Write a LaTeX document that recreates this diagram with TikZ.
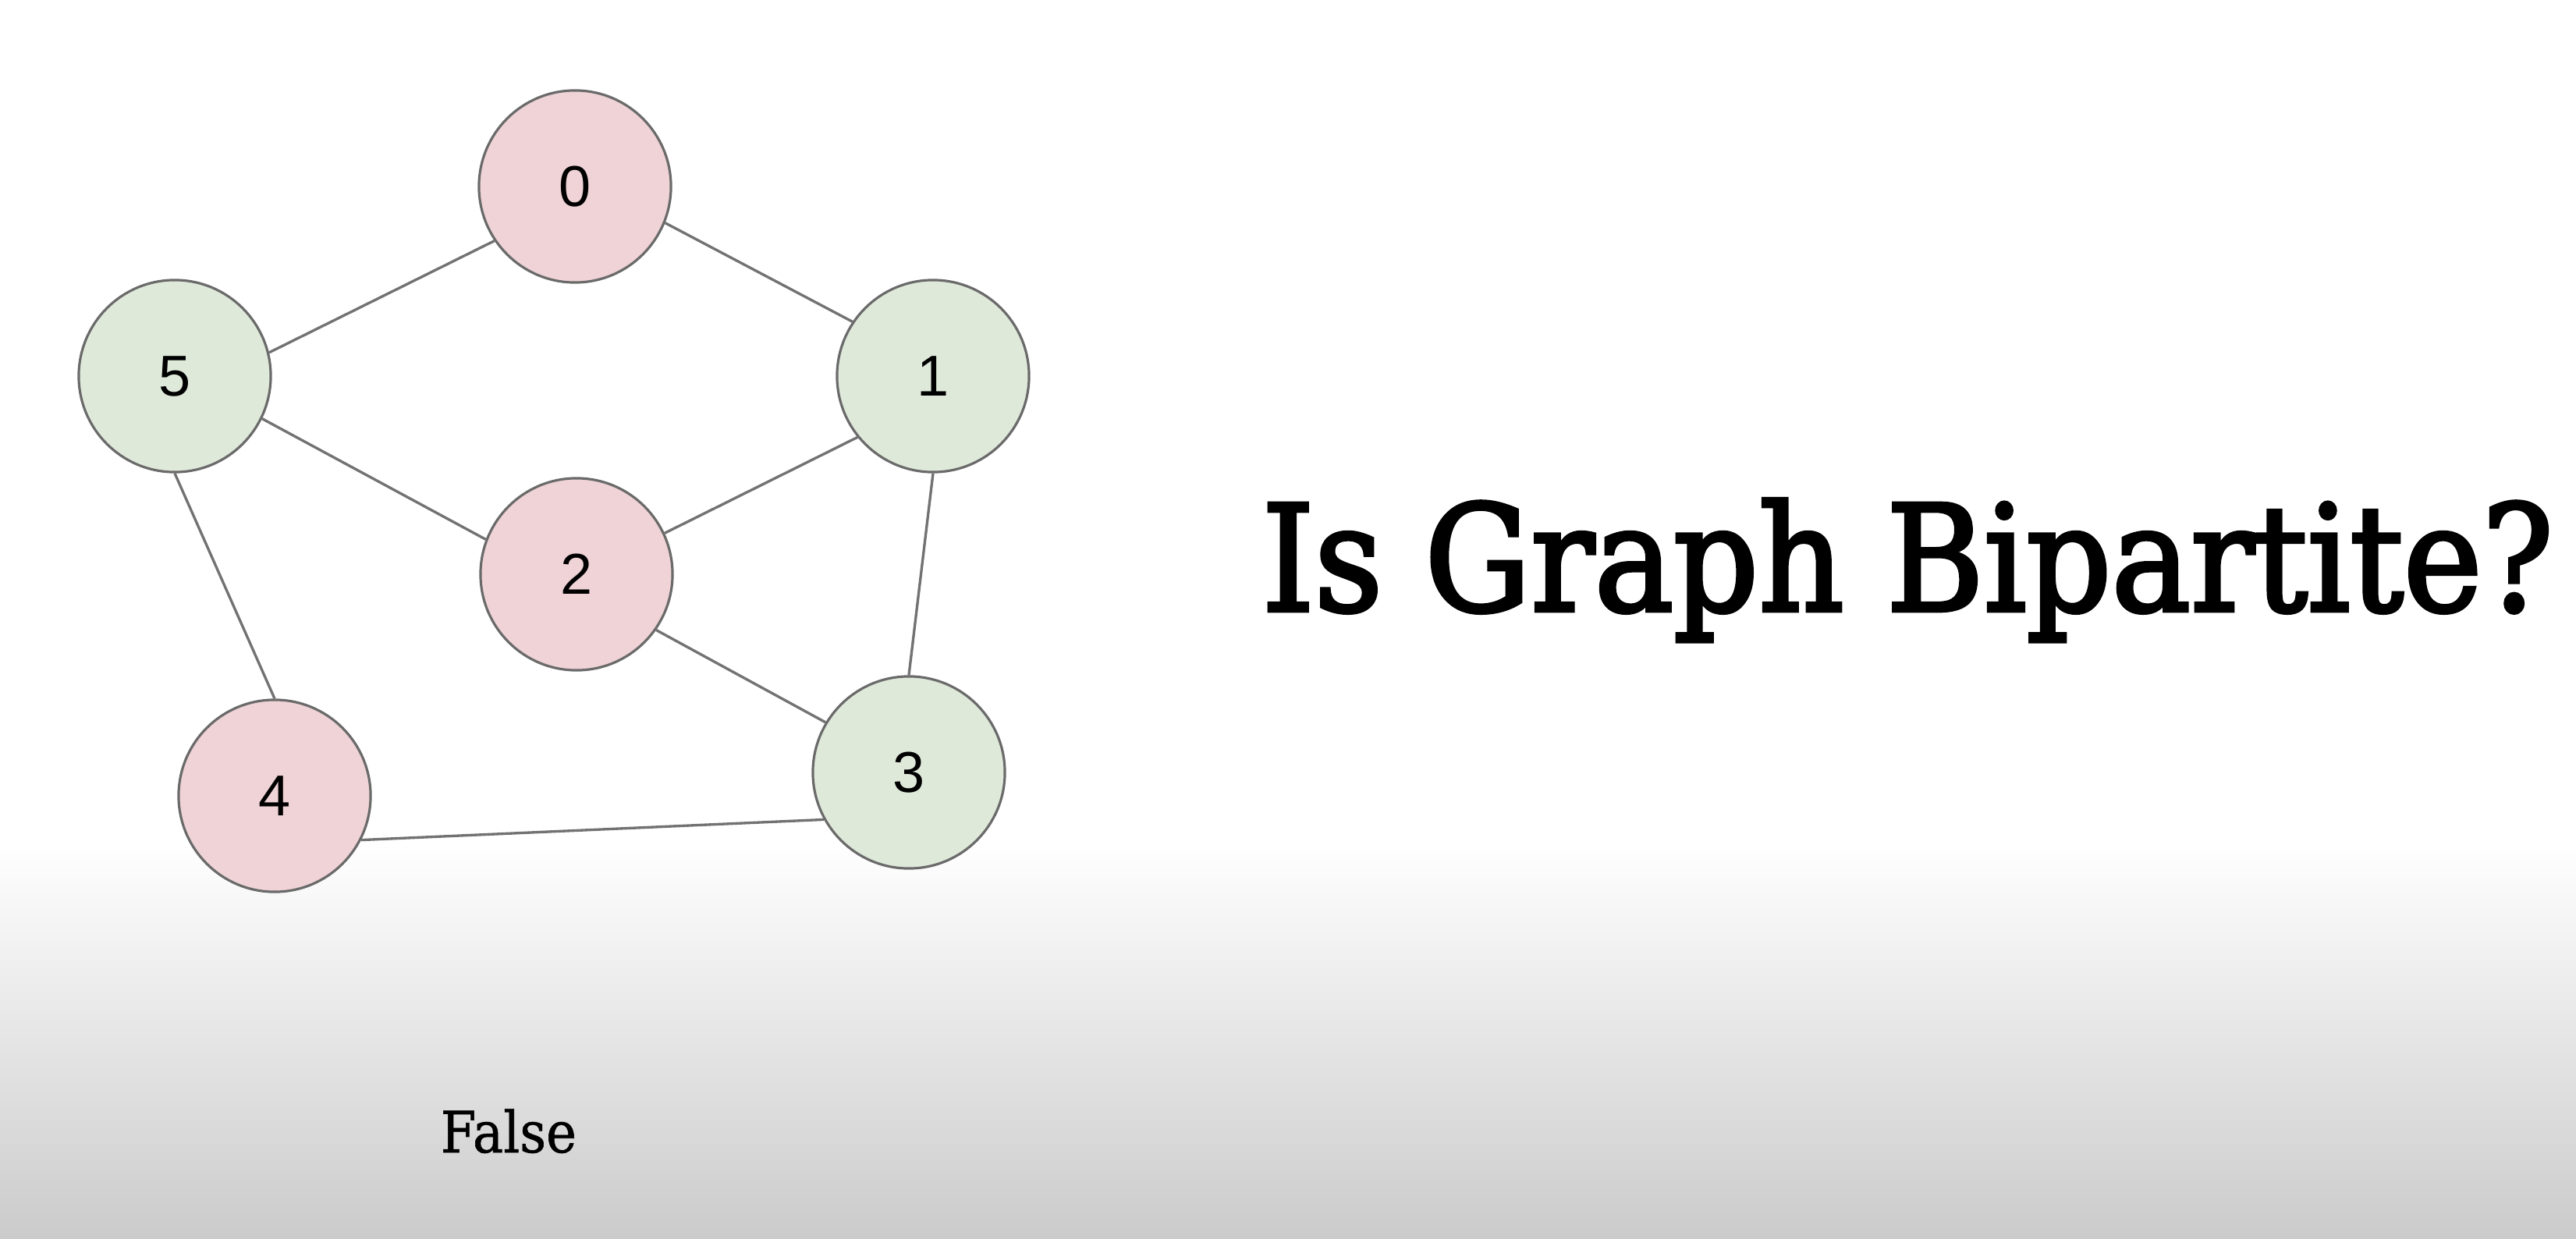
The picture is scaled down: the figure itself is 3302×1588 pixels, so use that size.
\documentclass[tikz,border=0pt]{standalone}
\usepackage{fontspec}
\setmainfont[FakeStretch=0.9,FakeBold=0.8]{DejaVu Serif}
\newfontfamily\headfont[FakeStretch=0.9,FakeBold=2.5]{DejaVu Serif}
\newfontfamily\digitfont{Liberation Sans}
\definecolor{redfill}{HTML}{EFD3D6}
\definecolor{greenfill}{HTML}{DFE9DA}
\definecolor{rimgray}{HTML}{6A6A6A}
\definecolor{edgegray}{HTML}{727272}
\definecolor{floorgray}{HTML}{CBCBCB}
\begin{document}
\begin{tikzpicture}[x=0.01cm,y=-0.01cm,
  vertex/.style={circle,draw=rimgray,line width=0.9pt,minimum size=2.46cm,inner sep=0pt,
    font=\digitfont\fontsize{21}{24}\selectfont},
  redv/.style={vertex,fill=redfill},
  greenv/.style={vertex,fill=greenfill},
  link/.style={draw=edgegray,line width=0.95pt}]
\useasboundingbox (0,0) rectangle (3302,1588);
\fill[white] (0,0) rectangle (3302,1588);
\shade[top color=white,bottom color=floorgray] (0,1080) rectangle (3302,1588);
% vertices
\node[redv] (n0) at (737,239) {0};
\node[greenv] (n1) at (1196,482) {1};
\node[redv] (n2) at (739,736) {2};
\node[greenv] (n3) at (1165,990) {3};
\node[redv] (n4) at (352,1020) {4};
\node[greenv] (n5) at (224,482) {5};
% edges
\draw[link] (n0.214) -- (n5.14);
\draw[link] (n0.-22) -- (n1.146);
\draw[link] (n5.-26) -- (n2.159);
\draw[link] (n1.219) -- (n2.25);
\draw[link] (n5.south) -- (n4.north);
\draw[link] (n1.south) -- (n3.north);
\draw[link] (n2.-35) -- (n3.149);
\draw[link] (n4.-27) -- (n3.209);
% texts
\node[anchor=base west,inner sep=0pt,font=\headfont\fontsize{53.8}{60}\selectfont] (title) at (1617,783) {Is Graph Bipartite?};
\node[anchor=base west,inner sep=0pt,font=\fontsize{20.8}{24}\selectfont] (verdict) at (564,1477) {False};
\end{tikzpicture}
\end{document}
